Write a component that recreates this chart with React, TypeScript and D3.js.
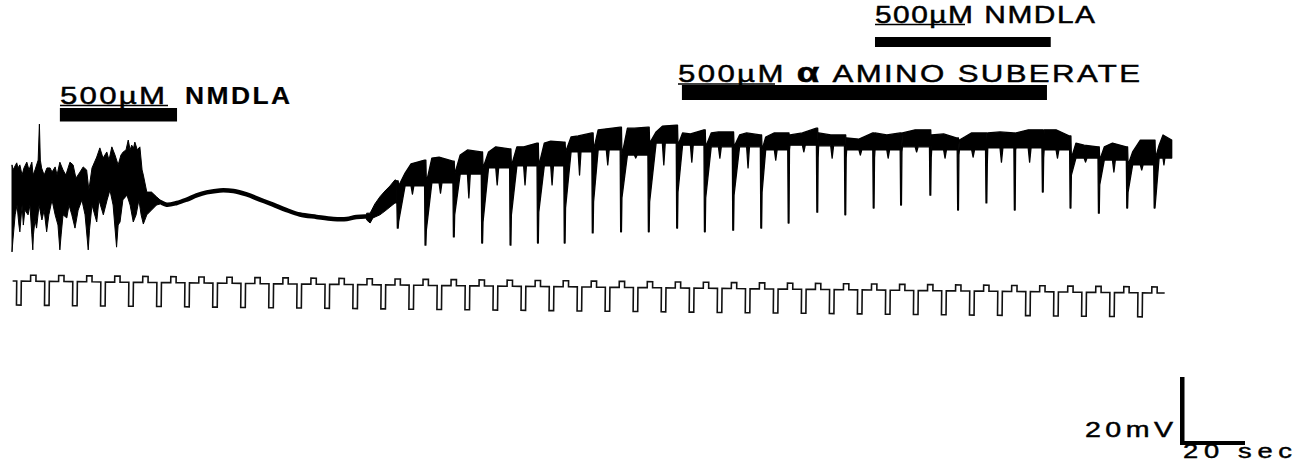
import * as d3 from 'd3';

// time in seconds from start of record, potential in mV
const traceEnd = 368.3;

// NMDLA burst before washout: upper / lower edge of the trace
const earlyTop: [number, number][] = [
  [0, -33.2], [0.3, -34.7], [1.5, -32.6], [1.9, -34.1], [2.5, -33.2], [3.2, -36.2], [3.8, -34.1],
  [4.7, -32.4], [5.4, -34.7], [6.3, -32.4], [6.7, -36.2], [7.3, -34.7], [8.3, -31.8], [8.7, -21.2],
  [9.0, -31.8], [9.4, -34.1], [10.2, -36.2], [11.1, -34.1], [12.1, -34.1], [12.7, -35.3], [13.7, -33.8],
  [14.3, -36.2], [15.2, -32.4], [16.2, -34.7], [17.1, -36.2], [18.4, -32.4], [19.4, -33.2], [20.3, -37.1],
  [21.6, -35.3], [22.6, -33.8], [23.7, -34.7], [24.4, -40.6], [25.4, -34.1], [26.9, -30.9], [27.9, -28.2],
  [28.9, -31.2], [30.1, -29.4], [30.8, -31.8], [31.7, -27.9], [32.7, -30.3], [33.7, -33.2], [34.6, -30.3],
  [35.3, -29.4], [36.2, -28.8], [36.9, -25.9], [37.5, -28.8], [38.0, -27.4], [38.6, -28.2], [39.0, -26.5],
  [39.8, -28.8], [40.6, -27.9], [41.3, -34.7], [41.7, -36.2], [42.8, -41.2], [44.3, -41.2], [45.9, -42.6],
  [47.0, -43.5],
];
const earlyBottom: [number, number][] = [
  [0, -58.8], [0.3, -55.3], [1.0, -47.9], [1.6, -45.0], [2.2, -50.9], [2.5, -52.9], [3.2, -45.0],
  [3.6, -50.9], [4.1, -46.5], [5.1, -47.9], [5.7, -45.0], [6.3, -53.8], [6.6, -58.2], [6.8, -53.8],
  [7.3, -49.4], [7.8, -51.8], [8.6, -45.0], [9.5, -49.4], [10.2, -46.5], [11.0, -52.9], [11.7, -47.9],
  [12.7, -43.5], [13.7, -47.9], [14.6, -50.9], [15.2, -58.2], [15.6, -53.8], [16.2, -47.9], [17.4, -48.8],
  [18.1, -45.0], [19.0, -47.9], [20.0, -51.8], [21.0, -46.5], [22.2, -43.5], [23.2, -47.9], [24.2, -58.2],
  [24.6, -52.4], [25.4, -45.0], [26.9, -50.0], [27.6, -43.5], [29.0, -47.9], [30.2, -43.5], [31.1, -40.6],
  [32.1, -45.0], [33.2, -57.4], [33.7, -50.9], [34.3, -50.0], [35.2, -43.5], [36.5, -42.1], [37.5, -45.0],
  [38.5, -50.0], [39.4, -47.9], [40.3, -43.5], [41.0, -47.9], [41.7, -50.6], [42.8, -47.9], [44.3, -46.5],
  [45.9, -45.0], [47.0, -44.7],
];

// quiet depolarised stretch
const slowWave: [number, number][] = [
  [45.9, -43.8], [47.0, -44.1], [49.1, -44.9], [52.3, -44.4], [55.5, -43.4], [58.6, -42.2], [61.8, -41.3],
  [66.0, -40.7], [70.3, -40.9], [74.5, -41.9], [78.7, -43.4], [82.9, -44.9], [87.2, -46.5], [91.4, -47.8],
  [96.7, -48.5], [102.0, -49.1], [106.3, -49.1], [109.4, -48.5], [112.6, -48.4],
];

// recovery of firing
const risingTop: [number, number][] = [
  [112.6, -47.4], [113.7, -47.4], [115.2, -44.7], [116.8, -42.6], [118.4, -40.9], [120.0, -39.4], [121.6, -37.6], [122.2, -37.9],
];
const risingBottom: [number, number][] = [
  [112.6, -49.4], [113.7, -50.3], [114.6, -48.8], [116.8, -47.9], [118.4, -46.8], [120.0, -45.6], [121.6, -44.4], [122.2, -44.4],
];

// one entry per hyperpolarising response
const spikeTimes = [122.3, 131.1, 140.1, 149.1, 158.1, 166.8, 175.3, 184.2, 193.2, 202.0, 211.0, 219.8, 228.8, 237.7,
  246.4, 255.5, 264.4, 273.4, 282.1, 291.4, 300.2, 309.2, 318.2, 327.1, 335.9, 344.9, 353.9, 362.6];
const spikeMin = [-51.8, -56.8, -54.4, -56.2, -56.8, -56.2, -56.2, -53.2, -52.9, -52.9, -51.8, -52.9, -52.4, -51.8,
  -50.3, -47.1, -47.9, -45.9, -45.0, -42.1, -46.5, -44.4, -46.5, -41.2, -45.9, -47.4, -45.9, -45.9];
const rampStart = [-50.0, -52.4, -47.9, -50.0, -47.9, -47.1, -45.9, -44.1, -42.9, -44.1, -41.2, -42.9, -42.1, -41.2,
  -28.8, -31.2, -31.2, -31.2, -29.4, -31.2, -30.3, -33.2, -28.8, -31.2, -36.2, -39.1, -41.2, -44.1];
const rampLen = [2.5, 2.2, 2.2, 2.2, 2.2, 2.2, 2.2, 1.9, 2.2, 2.5, 1.9, 2.2, 2.2, 1.6,
  0.6, 0.6, 0.6, 0.6, 0.6, 0.6, 0.6, 0.6, 0.6, 0.6, 1.9, 1.9, 1.9, 1.6];
const top1 = [-35.6, -31.2, -30.3, -29.4, -27.9, -26.8, -25.0, -22.9, -22.4, -23.5, -23.8, -23.8, -24.4, -25.0,
  -24.4, -23.8, -25.3, -23.8, -23.8, -24.4, -25.9, -23.8, -23.8, -22.9, -26.8, -27.9, -29.4, -27.4];
const top2 = [-32.9, -30.9, -28.8, -27.9, -27.9, -26.2, -24.7, -22.6, -22.4, -21.8, -24.1, -23.5, -23.8, -23.8,
  -23.8, -24.4, -25.6, -24.4, -22.9, -24.1, -23.8, -23.5, -22.9, -22.9, -27.4, -26.8, -25.9, -24.4];
const top3 = [-31.8, -32.1, -29.4, -28.5, -26.8, -26.5, -23.8, -22.1, -22.1, -21.5, -22.9, -23.5, -24.4, -23.8,
  -22.4, -24.4, -23.8, -23.8, -22.9, -25.3, -23.8, -23.8, -22.9, -24.7, -27.9, -27.9, -25.9, -25.9];
const bandLow = [-39.4, -38.5, -35.9, -34.1, -33.5, -33.5, -29.4, -28.8, -30.3, -26.8, -27.4, -27.9, -27.9, -28.8,
  -27.4, -27.6, -28.8, -28.8, -27.9, -28.8, -28.8, -28.2, -28.2, -28.8, -31.2, -31.8, -33.2, -31.2];
const dipV = [-41.8, -41.5, -42.9, -39.1, -39.1, -39.1, -36.2, -33.2, -31.2, -33.2, -32.4, -31.2, -34.1, -31.8,
  -29.4, -31.2, -30.3, -31.2, -29.4, -31.2, -30.9, -32.4, -32.4, -31.2, -32.4, -35.3, -34.7, -33.2];

// current injection: onset of each hyperpolarising pulse (s)
const pulseTimes = [1.5, 10.4, 19.3, 28.2, 37.1, 46.0, 54.9, 63.8, 72.7, 81.6, 90.5, 99.4, 108.3, 117.2, 126.1,
  135.0, 143.9, 152.8, 161.7, 170.6, 179.5, 188.4, 197.3, 206.2, 215.1, 224.0, 232.9, 241.8, 250.7, 259.6,
  268.5, 277.4, 286.3, 295.2, 304.1, 313.0, 321.9, 330.8, 339.7, 348.6, 357.5];
const pulseAmp = -1; // nA
const stepAmp = 0.25; // nA
const pulseWidth = 1.45;
const stepDelay = 4.4;
const stepWidth = 1.7;
const stimStart = 0.2;
const stimEnd = 366.0;

// drug applications (s)
const applications = [
  { drug: 'NMDLA', start: 15.2, end: 52.4 },
  { drug: 'NMDLA', start: 274.0, end: 329.8 },
  { drug: 'SUBERATE', start: 212.7, end: 328.6 },
];

const font = '"Liberation Sans", Arial, Helvetica, sans-serif';

// the lettering in the figure is an extended face, so stretch it sideways
function Label({ x, y, size, width, bold, stretch = 1.3, children }: {
  x: number; y: number; size: number; width: number; bold?: boolean; stretch?: number; children: any;
}) {
  return (
    <text
      transform={`translate(${x},${y}) scale(${stretch},1)`}
      fontFamily={font}
      fontSize={size}
      fontWeight={bold ? 'bold' : 'normal'}
      stroke="#000"
      strokeWidth={bold ? 0.2 : 0.45}
      fill="#000"
      textLength={width / stretch}
      lengthAdjust="spacing"
    >
      {children}
    </text>
  );
}

export default function App() {
  const width = 1302;
  const height = 474;

  const x = d3.scaleLinear().domain([0, traceEnd]).range([12, 1172]);
  const y = d3.scaleLinear().domain([-60, -20]).range([256, 120]);
  const yI = d3.scaleLinear().domain([-1, 0.25]).range([305, 275]);

  const line = d3.line<[number, number]>().x(d => x(d[0])).y(d => y(d[1]));
  const polygon = (upper: [number, number][], lower: [number, number][]) =>
    line([...upper, ...lower.slice().reverse()]) + 'Z';

  // build the repeating section cycle by cycle
  const cycTop: [number, number][] = [];
  const cycBottom: [number, number][] = [];
  spikeTimes.forEach((s, i) => {
    const next = i < spikeTimes.length - 1 ? spikeTimes[i + 1] : traceEnd;
    const p = next - s;
    const prevTop = i === 0 ? risingTop[risingTop.length - 1][1] : top3[i - 1];
    const prevBand = i === 0 ? risingBottom[risingBottom.length - 1][1] : bandLow[i - 1];
    cycTop.push(
      [s - 0.1, prevTop], [s + 0.3, prevTop], [s + 0.45, bandLow[i]],
      [s + rampLen[i], top1[i]], [s + 0.5 * p, top2[i]], [next - 0.1, top3[i]],
    );
    cycBottom.push(
      [s - 0.1, prevBand], [s + 0.05, spikeMin[i]], [s + 0.3, spikeMin[i]], [s + 0.45, rampStart[i]],
      [s + rampLen[i], bandLow[i]], [s + 0.5 * p, bandLow[i]], [s + 0.55 * p, dipV[i]],
      [s + 0.6 * p, bandLow[i]], [next - 0.1, bandLow[i]],
    );
  });

  // stimulus trace
  const stim: [number, number][] = [[stimStart, 0]];
  pulseTimes.forEach(d => {
    stim.push(
      [d, 0], [d, pulseAmp], [d + pulseWidth, pulseAmp], [d + pulseWidth, 0],
      [d + stepDelay, 0], [d + stepDelay, stepAmp], [d + stepDelay + stepWidth, stepAmp], [d + stepDelay + stepWidth, 0],
    );
  });
  stim.push([stimEnd, 0]);
  const stimLine = d3.line<[number, number]>().x(d => x(d[0])).y(d => yI(d[1]));

  const slowLine = d3.line<[number, number]>()
    .x(d => x(d[0])).y(d => y(d[1]))
    .curve(d3.curveCatmullRom);

  const barY: Record<number, [number, number]> = { 0: [108, 13.5], 1: [37, 10], 2: [85, 15] };

  // scale bar
  const sbX = 1180;
  const sbY = 445;
  const sbW = x(20) - x(0);
  const sbH = y(-40) - y(-20);

  return (
    <svg width={width} height={height} style={{ position: 'absolute', left: 0, top: 0, background: '#fff' }}>
      {/* drug bars */}
      {applications.map((a, i) => (
        <rect key={i} x={x(a.start)} y={barY[i][0]} width={x(a.end) - x(a.start)} height={barY[i][1]} fill="#000" />
      ))}

      {/* labels */}
      <Label x={60} y={103.5} size={24} width={105}>500µM</Label>
      <line x1={60} x2={168} y1={105.5} y2={105.5} stroke="#000" strokeWidth={1.5} />
      <Label x={185} y={103.5} size={24} width={105} bold stretch={1.1}>NMDLA</Label>

      <Label x={875} y={22.5} size={23} width={220}>500µM NMDLA</Label>
      <line x1={875} x2={965} y1={24.5} y2={24.5} stroke="#000" strokeWidth={1.5} />

      <Label x={678} y={82} size={24} width={462}>
        500µM <tspan fontWeight="bold" fontSize={28} strokeWidth={0.6}>α</tspan> AMINO SUBERATE
      </Label>
      <line x1={678} x2={775} y1={84} y2={84} stroke="#000" strokeWidth={1.5} />

      {/* membrane potential */}
      <path d={polygon(earlyTop, earlyBottom)} fill="#000" stroke="#000" strokeWidth={1} strokeLinejoin="round" />
      <path d={slowLine(slowWave) ?? ''} fill="none" stroke="#000" strokeWidth={4.5} strokeLinecap="round" />
      <path d={polygon(risingTop, risingBottom)} fill="#000" stroke="#000" strokeWidth={1} />
      <path d={polygon(cycTop, cycBottom)} fill="#000" stroke="#000" strokeWidth={1.3} strokeLinejoin="round" />

      {/* injected current */}
      <path
        d={stimLine(stim) ?? ''}
        fill="none"
        stroke="#111"
        strokeWidth={1.6}
        transform={`rotate(0.6 ${x(stimStart)} ${yI(0)})`}
      />

      {/* scale bar */}
      <rect x={sbX} y={sbY - sbH} width={4.5} height={sbH} fill="#000" />
      <rect x={sbX} y={sbY - 4} width={sbW + 2} height={4} fill="#000" />
      <Label x={1085} y={437} size={22} width={88}>20mV</Label>
      <Label x={1183} y={458} size={21} width={109}>20 sec</Label>
    </svg>
  );
}
